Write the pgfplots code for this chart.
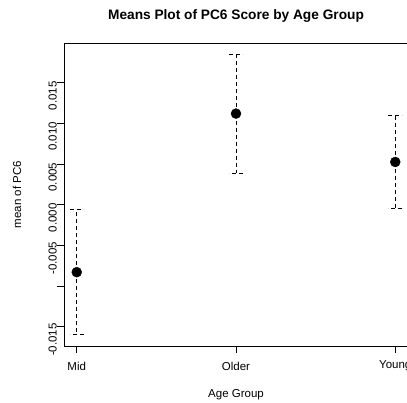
\documentclass[border=0pt]{standalone}
\usepackage{pgfplots}
\pgfplotsset{compat=1.18}
\usepackage{fontspec}
\setmainfont{Liberation Sans}
\begin{document}
\begin{tikzpicture}
\begin{axis}[
  scale only axis, width=344pt, height=303pt,
  xmin=0.92, xmax=3.08, ymin=-0.01738, ymax=0.01988,
  xtick={1,2,3}, xticklabels={Mid,Older,Young},
  ytick={-0.015,-0.010,-0.005,0,0.005,0.010,0.015},
  yticklabels={-0.015,,-0.005,0.000,0.005,0.010,0.015},
  scaled y ticks=false,
  tick align=outside, major tick length=7pt,
  xtick pos=bottom, ytick pos=left,
  axis line style={black, line width=0.75pt},
  tick style={black, line width=0.75pt},
  ticklabel style={font=\fontsize{11.5}{13}\selectfont},
  yticklabel style={rotate=90, anchor=south, inner sep=0pt, xshift=-13pt},
  xticklabel style={anchor=center, inner sep=0pt, yshift=-13pt},
  title={Means Plot of PC6 Score by Age Group},
  every axis title/.style={at={(axis description cs:0.5,1)}, anchor=center, yshift=27pt, font=\bfseries\fontsize{13.7}{16}\selectfont},
  xlabel={Age Group},
  every axis x label/.style={at={(axis description cs:0.5,0)}, anchor=center, yshift=-49pt, font=\fontsize{11.5}{13}\selectfont},
  ylabel={mean of PC6},
  every axis y label/.style={at={(axis description cs:0,0.5)}, xshift=-47pt, rotate=90, anchor=center, font=\fontsize{11.5}{13}\selectfont},
]
\addplot[only marks, mark=*, mark size=5pt, black,
  error bars/.cd, y dir=both, y explicit, error mark=|,
  error bar style={black, line width=0.6pt, dash pattern=on 4pt off 3pt},
  error mark options={black, line width=0.6pt, mark size=7pt, dash pattern=on 4pt off 3pt}]
  coordinates {
  (1,-0.0083) +- (0,0.0077)
  (2,0.0112) +- (0,0.0073)
  (3,0.00525) +- (0,0.00575)
  };
\end{axis}
\pgfresetboundingbox
\path[use as bounding box] (-64pt,-56pt) rectangle (343pt,346pt);
\end{tikzpicture}
\end{document}
